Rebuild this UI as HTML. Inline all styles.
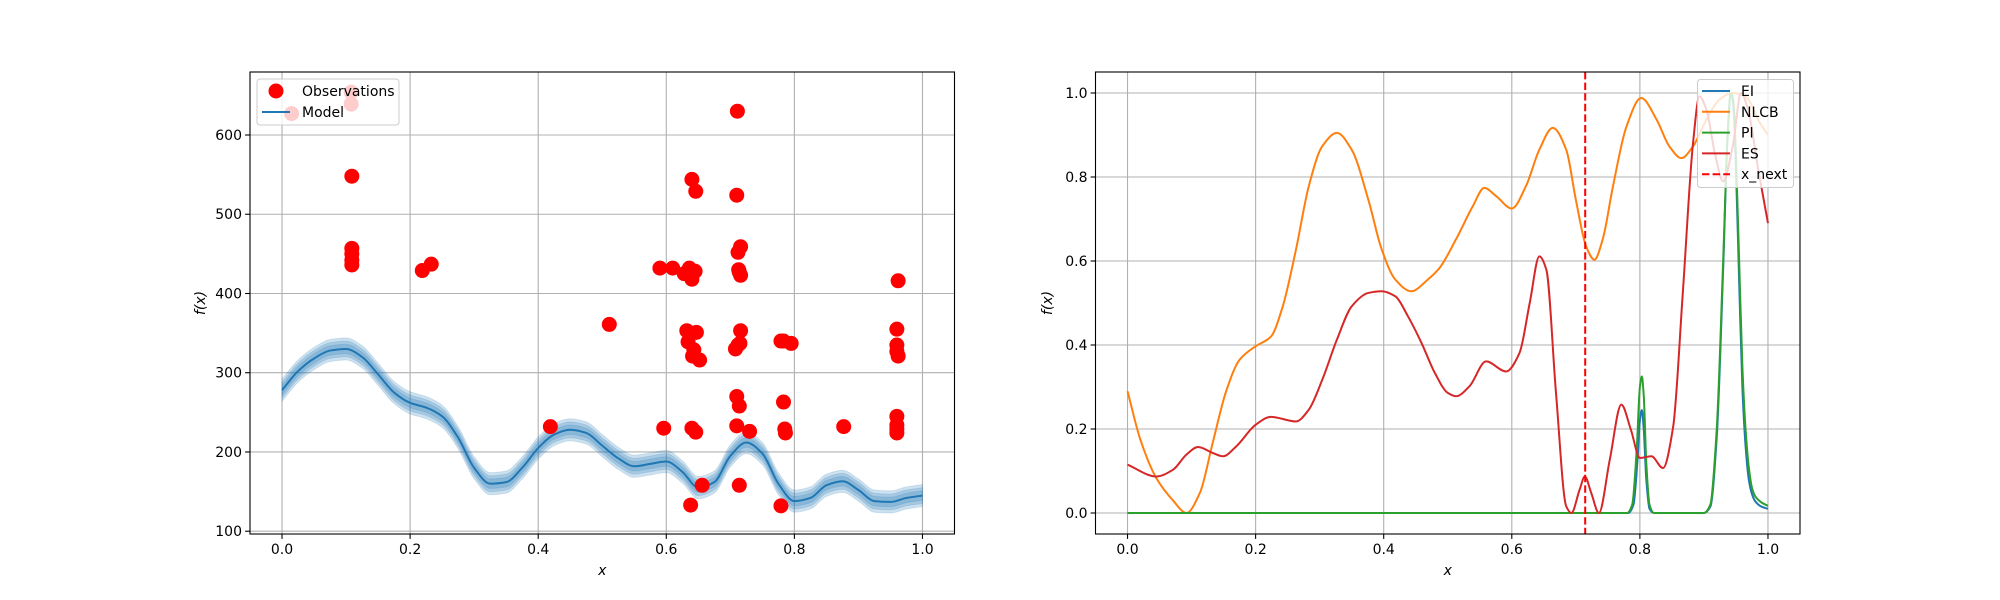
<!DOCTYPE html>
<html><head><meta charset="utf-8">
<style>
html,body{margin:0;padding:0;background:#fff;}
svg{display:block;font-family:"DejaVu Sans","Liberation Sans",sans-serif;}
</style></head>
<body>
<svg id="fig" width="2000" height="600" viewBox="0 0 2000 600" xmlns="http://www.w3.org/2000/svg">
<rect width="2000" height="600" fill="#fff"/>
<g id="left"></g>
<g id="right"></g>
</svg>
<script>
// ---------- Left chart data ----------
const obsX = [0.015,0.108,0.108,0.109,0.109,0.109,0.109,0.109,0.219,0.233,0.419,0.511,0.590,0.610,0.628,0.636,0.640,0.645,0.640,0.646,0.632,0.638,0.647,0.634,0.641,0.652,0.643,0.596,0.640,0.646,0.638,0.656,0.710,0.716,0.712,0.713,0.714,0.716,0.716,0.708,0.712,0.715,0.710,0.714,0.710,0.730,0.714,0.711,0.779,0.783,0.795,0.783,0.785,0.786,0.779,0.877,0.962,0.960,0.960,0.960,0.962,0.960,0.960,0.960,0.960];
const obsY = [627,654,639,548,457,450,442,436,429,437,232,361,432,432,425,432,418,428,544,529,353,350,351,339,321,316,329,230,230,225,133,158,524,459,452,430,427,423,353,330,335,337,270,258,233,226,158,630,340,340,337,263,229,224,132,232,416,355,335,327,321,245,234,224,229];
const modelX = [0,0.025,0.05,0.075,0.1,0.125,0.15,0.175,0.2,0.225,0.25,0.275,0.3,0.325,0.35,0.375,0.4,0.425,0.45,0.475,0.5,0.525,0.55,0.575,0.6,0.625,0.65,0.675,0.7,0.725,0.75,0.775,0.8,0.825,0.85,0.875,0.9,0.925,0.95,0.975,1.0];
const modelY = [278,302,318,328,330,320,298,275,262,256,245,218,180,160,162,180,205,222,228,224,208,192,182,185,188,175,155,162,195,212,198,160,138,142,158,163,152,138,137,142,145];
const bandHalf = [14,10,6];
const leftXTicks = [0.0,0.2,0.4,0.6,0.8,1.0];
const leftYTicks = [100,200,300,400,500,600];

// ---------- Right chart data ----------
const nlcbX = [0,0.02,0.045,0.071,0.092,0.113,0.133,0.154,0.175,0.2,0.224,0.242,0.263,0.283,0.304,0.327,0.35,0.376,0.397,0.418,0.443,0.469,0.487,0.513,0.539,0.557,0.576,0.6,0.622,0.643,0.664,0.685,0.7,0.716,0.729,0.742,0.758,0.779,0.802,0.826,0.846,0.865,0.883,0.904,0.924,0.945,0.966,0.987,1.0];
const nlcbY = [0.29,0.175,0.083,0.03,0.0,0.048,0.167,0.29,0.365,0.397,0.42,0.49,0.627,0.778,0.873,0.905,0.865,0.746,0.627,0.556,0.528,0.556,0.583,0.652,0.73,0.774,0.754,0.725,0.778,0.865,0.917,0.865,0.746,0.635,0.603,0.652,0.778,0.92,0.988,0.937,0.873,0.845,0.873,0.937,0.984,1.0,0.99,0.93,0.9];
const esX = [0,0.045,0.071,0.092,0.11,0.133,0.149,0.17,0.2,0.224,0.263,0.283,0.304,0.327,0.35,0.376,0.397,0.418,0.438,0.459,0.48,0.5,0.513,0.534,0.56,0.591,0.612,0.628,0.643,0.654,0.669,0.685,0.693,0.706,0.714,0.724,0.736,0.753,0.771,0.786,0.8,0.818,0.836,0.852,0.867,0.883,0.893,0.904,0.917,0.93,0.945,0.958,0.969,0.984,1.0];
const esY = [0.115,0.087,0.103,0.139,0.157,0.143,0.135,0.159,0.21,0.229,0.218,0.246,0.317,0.413,0.492,0.524,0.528,0.516,0.468,0.405,0.333,0.286,0.278,0.302,0.361,0.337,0.381,0.5,0.611,0.579,0.286,0.016,0.0,0.056,0.087,0.048,0.0,0.127,0.258,0.198,0.131,0.135,0.107,0.206,0.524,0.881,0.992,0.96,0.857,0.79,0.873,1.0,0.96,0.825,0.69];
const piX = [0,0.78,0.788,0.795,0.8,0.803,0.806,0.81,0.815,0.822,0.9,0.91,0.92,0.93,0.937,0.942,0.946,0.95,0.955,0.96,0.965,0.97,0.975,0.98,0.99,1.0];
const piY = [0,0,0.02,0.15,0.3,0.325,0.28,0.12,0.02,0,0,0.02,0.2,0.6,0.9,1.0,0.98,0.85,0.6,0.35,0.2,0.11,0.06,0.04,0.025,0.017];
const eiX = [0,0.782,0.79,0.796,0.8,0.803,0.806,0.81,0.815,0.822,0.9,0.91,0.92,0.93,0.937,0.942,0.946,0.95,0.955,0.96,0.965,0.97,0.975,0.98,0.99,1.0];
const eiY = [0,0,0.02,0.12,0.22,0.245,0.2,0.08,0.01,0,0,0.015,0.18,0.58,0.9,1.0,0.97,0.82,0.55,0.3,0.16,0.08,0.045,0.028,0.015,0.01];
const xNext = [0.7146];
const rightXTicks = [0.0,0.2,0.4,0.6,0.8,1.0];
const rightYTicks = [0.0,0.2,0.4,0.6,0.8,1.0];

const NS = "http://www.w3.org/2000/svg";
function mk(parent, tag, attrs, text){
  const e = document.createElementNS(NS, tag);
  for (const k in attrs) e.setAttribute(k, attrs[k]);
  if (text !== undefined) e.textContent = text;
  parent.appendChild(e);
  return e;
}
// monotone cubic (Fritsch-Carlson) path, no overshoot
function smoothSegs(pts){
  const n = pts.length;
  const dx = [], dy = [], m = [];
  for (let i = 0; i < n - 1; i++){ dx.push(pts[i+1][0]-pts[i][0]); dy.push(pts[i+1][1]-pts[i][1]); m.push(dx[i] ? dy[i]/dx[i] : 0); }
  const t = new Array(n);
  t[0] = m[0]; t[n-1] = m[n-2];
  for (let i = 1; i < n - 1; i++){
    if (m[i-1] * m[i] <= 0) t[i] = 0;
    else { const w1 = 2*dx[i] + dx[i-1], w2 = dx[i] + 2*dx[i-1]; t[i] = (w1 + w2) / (w1/m[i-1] + w2/m[i]); }
  }
  let d = "";
  for (let i = 0; i < n - 1; i++){
    const h = dx[i] / 3;
    d += " C" + (pts[i][0]+h).toFixed(2) + "," + (pts[i][1]+t[i]*h).toFixed(2) + " " + (pts[i+1][0]-h).toFixed(2) + "," + (pts[i+1][1]-t[i+1]*h).toFixed(2) + " " + pts[i+1][0].toFixed(2) + "," + pts[i+1][1].toFixed(2);
  }
  return d;
}
function smoothPath(pts){
  return "M" + pts[0][0].toFixed(2) + "," + pts[0][1].toFixed(2) + smoothSegs(pts);
}
function makeAxes(g, L, T, W, H, xmin, xmax, ymin, ymax, xt, yt, fmtX, fmtY, prefix){
  const sx = v => L + (v - xmin) / (xmax - xmin) * W;
  const sy = v => T + H - (v - ymin) / (ymax - ymin) * H;
  const clipId = prefix + "-clip";
  const defs = mk(g, "defs", {});
  const cp = mk(defs, "clipPath", {id: clipId});
  mk(cp, "rect", {x: L, y: T, width: W, height: H});
  const grid = mk(g, "g", {});
  
  
  xt.forEach(v => {
    const x = sx(v);
    const gl = mk(grid, "line", {x1: x, x2: x, y1: T, y2: T + H, stroke: "#b0b0b0", "stroke-width": 1.1});
    
    
    mk(g, "line", {x1: x, x2: x, y1: T + H, y2: T + H + 4.9, stroke: "#000", "stroke-width": 1.1});
    const t = mk(g, "text", {x: x, y: T + H + 20, "font-size": 14, "text-anchor": "middle", fill: "#000"}, fmtX(v));
    
    
  });
  yt.forEach(v => {
    const y = sy(v);
    const gl = mk(grid, "line", {x1: L, x2: L + W, y1: y, y2: y, stroke: "#b0b0b0", "stroke-width": 1.1});
    
    
    mk(g, "line", {x1: L - 4.9, x2: L, y1: y, y2: y, stroke: "#000", "stroke-width": 1.1});
    const t = mk(g, "text", {x: L - 8, y: y + 5, "font-size": 14, "text-anchor": "end", fill: "#000"}, fmtY(v));
    
    
  });
  const plot = mk(g, "g", {"clip-path": "url(#" + clipId + ")"});
  
  
  return {sx, sy, plot};
}
function frame(g, L, T, W, H, prefix){
  const r = mk(g, "rect", {x: L, y: T, width: W, height: H, fill: "none", stroke: "#000", "stroke-width": 1.1});
  
  
}
function axisLabels(g, cx, by, lx, cy, prefix){
  const xl = mk(g, "text", {x: cx, y: by, "font-size": 14, "font-style": "italic", "text-anchor": "middle"}, "x");
  
  
  const yl = mk(g, "text", {x: 0, y: 0, "font-size": 14, "font-style": "italic", "text-anchor": "middle", transform: "translate(" + lx + "," + cy + ") rotate(-90)"}, "f(x)");
  
  
}

// ---------- Left ----------
(function(){
  const g = document.getElementById("left");
  const L = 250, T = 72, W = 704.5, H = 462;
  const A = makeAxes(g, L, T, W, H, -0.05, 1.05, 96.5, 679.5, leftXTicks, leftYTicks, v => v.toFixed(1), v => String(v), "left");
  bandHalf.forEach(h => {
    const up = modelX.map((x, i) => [A.sx(x), A.sy(modelY[i] + h)]);
    const dn = modelX.map((x, i) => [A.sx(x), A.sy(modelY[i] - h)]).reverse();
    const dnSorted = dn.map(p => [-p[0], p[1]]);
    let segs = smoothSegs(dnSorted).replace(/(-?\d+\.?\d*),(-?\d+\.?\d*)/g, (m0, a, b) => (-parseFloat(a)).toFixed(2) + "," + b);
    const d = smoothPath(up) + " L" + dn[0][0].toFixed(2) + "," + dn[0][1].toFixed(2) + segs + " Z";
    const p = mk(A.plot, "path", {d: d, fill: "#1f77b4", "fill-opacity": 0.22, stroke: "#1f77b4", "stroke-opacity": 0.15});
    
    
  });
  const ml = mk(A.plot, "path", {d: smoothPath(modelX.map((x, i) => [A.sx(x), A.sy(modelY[i])])), fill: "none", stroke: "#1f77b4", "stroke-width": 2});
  
  
  obsX.forEach((x, i) => {
    const c = mk(A.plot, "circle", {cx: A.sx(x), cy: A.sy(obsY[i]), r: 7.5, fill: "#ff0000"});
    
    
  });
  frame(g, L, T, W, H, "left");
  axisLabels(g, L + W / 2, 575, 205, T + H / 2, "left");
  const lg = mk(g, "g", {});
  
  
  mk(lg, "rect", {x: 257, y: 79, width: 142, height: 46, rx: 3, fill: "#fff", "fill-opacity": 0.8, stroke: "#cccccc", "stroke-width": 1});
  const e1 = mk(lg, "circle", {cx: 276, cy: 91, r: 7.5, fill: "#ff0000"});
  
  
  mk(lg, "text", {x: 302, y: 96, "font-size": 14}, "Observations");
  const e2 = mk(lg, "line", {x1: 262, x2: 290, y1: 112, y2: 112, stroke: "#1f77b4", "stroke-width": 2});
  
  
  mk(lg, "text", {x: 302, y: 117, "font-size": 14}, "Model");
})();

// ---------- Right ----------
(function(){
  const g = document.getElementById("right");
  const L = 1095.5, T = 72, W = 704.5, H = 462;
  const A = makeAxes(g, L, T, W, H, -0.05, 1.05, -0.05, 1.05, rightXTicks, rightYTicks, v => v.toFixed(1), v => v.toFixed(1), "right");
  const series = [
    [eiX, eiY, "#1f77b4", "ei-line"],
    [nlcbX, nlcbY, "#ff7f0e", "nlcb-line"],
    [piX, piY, "#2ca02c", "pi-line"],
    [esX, esY, "#d62728", "es-line"]
  ];
  series.forEach(s => {
    const pts = s[0].map((x, i) => [A.sx(x), A.sy(s[1][i])]);
    const p = mk(A.plot, "path", {d: smoothPath(pts), fill: "none", stroke: s[2], "stroke-width": 2});
    
    
  });
  xNext.forEach(v => {
    const l = mk(A.plot, "line", {x1: A.sx(v), x2: A.sx(v), y1: T, y2: T + H, stroke: "#ff0000", "stroke-width": 2, "stroke-dasharray": "7.4,3.2"});
    
    
  });
  frame(g, L, T, W, H, "right");
  axisLabels(g, L + W / 2, 575, 1052, T + H / 2, "right");
  const lg = mk(g, "g", {});
  
  
  mk(lg, "rect", {x: 1697.5, y: 79.5, width: 96, height: 108, rx: 3, fill: "#fff", "fill-opacity": 0.8, stroke: "#cccccc", "stroke-width": 1});
  const items = [["EI", "#1f77b4", ""], ["NLCB", "#ff7f0e", ""], ["PI", "#2ca02c", ""], ["ES", "#d62728", ""], ["x_next", "#ff0000", "7.4,3.2"]];
  items.forEach((it, i) => {
    const y = 91 + i * 20.8;
    const l = mk(lg, "line", {x1: 1702, x2: 1730, y1: y, y2: y, stroke: it[1], "stroke-width": 2, "stroke-dasharray": it[2] || "none"});
    
    
    mk(lg, "text", {x: 1741, y: y + 5, "font-size": 14}, it[0]);
  });
})();
</script>
</body></html>
